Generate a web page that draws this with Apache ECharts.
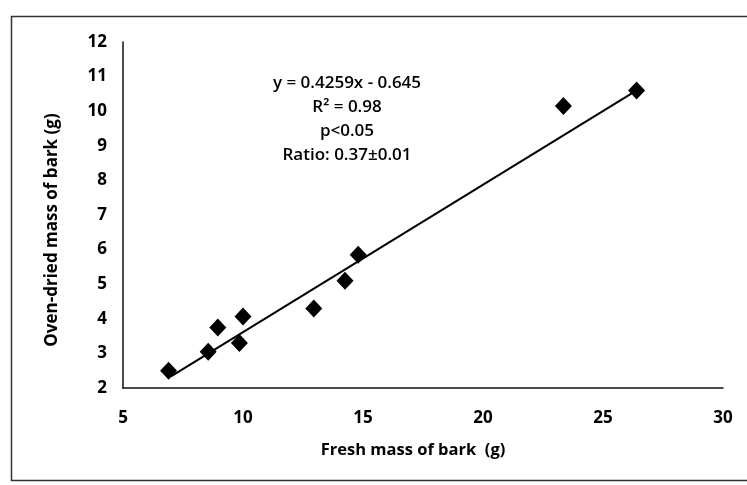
<!DOCTYPE html>
<html>
<head>
<meta charset="utf-8">
<script src="https://cdn.jsdelivr.net/npm/echarts@6/dist/echarts.min.js"></script>
<style>
  html, body { margin: 0; padding: 0; background: #ffffff; }
  #chart { width: 747px; height: 485px; }
</style>
</head>
<body>
<div id="chart"></div>
<script>
// ---- data ----
var freshMass = [6.9, 8.55, 8.95, 9.85, 10.0, 12.95, 14.25, 14.8, 23.35, 26.4];
var driedMass = [2.5, 3.05, 3.75, 3.3, 4.07, 4.3, 5.1, 5.85, 10.15, 10.6];
var trendSlope = 0.4259;
var trendIntercept = -0.645;
var trendRange = [7.0, 26.3];
var annotationLines = ['y = 0.4259x - 0.645', 'R\u00b2 = 0.98', 'p<0.05', 'Ratio: 0.37\u00b10.01'];
var xTitle = 'Fresh mass of bark  (g)';
var yTitle = 'Oven-dried mass of bark (g)';

var points = freshMass.map(function (x, i) { return [x, driedMass[i]]; });
var trend = trendRange.map(function (x) { return [x, trendSlope * x + trendIntercept]; });

var font = 'Open Sans';
var chart = echarts.init(document.getElementById('chart'));
chart.setOption({
  backgroundColor: '#ffffff',
  animation: false,
  graphic: [
    { type: 'rect', left: 9, top: 14, shape: { width: 760, height: 464 },
      style: { fill: 'none', stroke: '#333', lineWidth: 1.5 }, silent: true },
    { type: 'text', x: 347, y: 71, z: 10,
      style: { text: annotationLines.join('\n'), fill: '#000', font: '600 17px "' + font + '"',
               align: 'center', lineHeight: 24 } }
  ],
  grid: { left: 123, right: 24, top: 42, bottom: 97, containLabel: false },
  xAxis: {
    type: 'value', min: 5, max: 30, interval: 5,
    name: xTitle, nameLocation: 'middle', nameGap: 54,
    nameTextStyle: { fontFamily: font, fontWeight: 'bold', fontSize: 16.5, color: '#000', padding: [0, 20, 0, 0] },
    axisLine: { show: true, lineStyle: { color: '#111', width: 1.5 } },
    axisTick: { show: false },
    splitLine: { show: false },
    axisLabel: { margin: 22, fontFamily: font, fontWeight: 'bold', fontSize: 17, color: '#000' }
  },
  yAxis: {
    type: 'value', min: 2, max: 12, interval: 1,
    name: yTitle, nameLocation: 'middle', nameGap: 62,
    nameTextStyle: { fontFamily: font, fontWeight: 'bold', fontSize: 17, color: '#000', padding: [0, 30, 0, 0] },
    axisLine: { show: true, lineStyle: { color: '#111', width: 1.5 } },
    axisTick: { show: false },
    splitLine: { show: false },
    axisLabel: { margin: 16, fontFamily: font, fontWeight: 'bold', fontSize: 17, color: '#000' }
  },
  series: [
    {
      type: 'line', data: trend, symbol: 'none', z: 2,
      lineStyle: { color: '#000', width: 2 }
    },
    {
      type: 'scatter', data: points, symbol: 'diamond', symbolSize: [17, 18], z: 3,
      itemStyle: { color: '#000', opacity: 1 }
    }
  ]
});
</script>
</body>
</html>
